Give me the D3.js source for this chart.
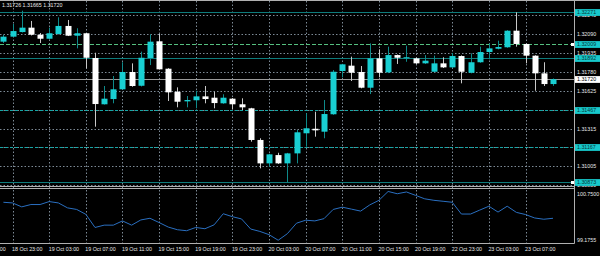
<!DOCTYPE html>
<html>
<head>
<meta charset="utf-8">
<script src="https://cdn.jsdelivr.net/npm/d3@7"></script>
<style>
  body { margin: 0; background: #000; }
  svg { display: block; font-family: "Liberation Sans", Arial, sans-serif; }
</style>
</head>
<body>
<svg id="grafico" width="600" height="256"></svg>
<script>
// Velas H1 (uma por hora, da esquerda para a direita)
let abertura = [1.32028, 1.32069, 1.32107, 1.32143, 1.32085, 1.32052, 1.32091, 1.32157, 1.32077, 1.32097,
  1.31894, 1.31514, 1.31557, 1.31637, 1.31779, 1.31666, 1.31894, 1.32031, 1.31806, 1.31617,
  1.31538, 1.31547, 1.31579, 1.31568, 1.31522, 1.31560, 1.31514, 1.31481, 1.31221, 1.31029,
  1.31097, 1.31029, 1.31111, 1.31276, 1.31313, 1.31289, 1.31432, 1.31787, 1.31831, 1.31779,
  1.31650, 1.31891, 1.31776, 1.31918, 1.31894, 1.31891, 1.31850, 1.31781, 1.31850, 1.31817,
  1.31910, 1.31773, 1.31859, 1.31943, 1.31970, 1.31982, 1.32118, 1.32009, 1.31913, 1.31768,
  1.31680];
let maxima = [1.32083, 1.32173, 1.32282, 1.32198, 1.32099, 1.32143, 1.32228, 1.32206, 1.32138, 1.32099,
  1.31937, 1.31664, 1.31746, 1.31859, 1.31850, 1.31946, 1.32088, 1.32091, 1.31810, 1.31653,
  1.31582, 1.31625, 1.31664, 1.31617, 1.31596, 1.31565, 1.31563, 1.31485, 1.31235, 1.31108,
  1.31116, 1.31115, 1.31303, 1.31440, 1.31453, 1.31549, 1.31795, 1.31846, 1.31905, 1.31828,
  1.32014, 1.31965, 1.31987, 1.31922, 1.31995, 1.31895, 1.31918, 1.31913, 1.31900, 1.31935,
  1.31915, 1.31932, 1.31987, 1.32014, 1.32036, 1.32122, 1.32269, 1.32012, 1.31916, 1.31859,
  1.31726];
let minima = [1.32017, 1.32066, 1.32103, 1.32079, 1.32017, 1.32048, 1.32087, 1.32074, 1.31973, 1.31809,
  1.31330, 1.31512, 1.31522, 1.31635, 1.31658, 1.31660, 1.31836, 1.31799, 1.31541, 1.31489,
  1.31489, 1.31481, 1.31522, 1.31481, 1.31518, 1.31473, 1.31467, 1.31207, 1.30988, 1.31001,
  1.31025, 1.30870, 1.31029, 1.31166, 1.31248, 1.31235, 1.31428, 1.31735, 1.31705, 1.31645,
  1.31598, 1.31735, 1.31770, 1.31845, 1.31863, 1.31845, 1.31846, 1.31777, 1.31812, 1.31812,
  1.31686, 1.31768, 1.31855, 1.31883, 1.31965, 1.31978, 1.31987, 1.31850, 1.31625, 1.31664,
  1.31665];
let fechamento = [1.32069, 1.32115, 1.32143, 1.32085, 1.32052, 1.32097, 1.32157, 1.32077, 1.32097, 1.31896,
  1.31516, 1.31560, 1.31637, 1.31779, 1.31664, 1.31896, 1.32028, 1.31801, 1.31612, 1.31535,
  1.31549, 1.31579, 1.31557, 1.31524, 1.31568, 1.31514, 1.31489, 1.31221, 1.31029, 1.31103,
  1.31029, 1.31111, 1.31284, 1.31317, 1.31300, 1.31434, 1.31781, 1.31842, 1.31773, 1.31650,
  1.31891, 1.31773, 1.31918, 1.31896, 1.31900, 1.31850, 1.31872, 1.31850, 1.31817, 1.31910,
  1.31781, 1.31859, 1.31943, 1.31973, 1.31984, 1.32118, 1.32009, 1.31913, 1.31768, 1.31680,
  1.31720];

// Indicador da subjanela
let indicador = [100.382, 100.362, 100.244, 100.314, 100.314, 100.403, 100.362, 100.214, 100.167, 100.020,
  99.626, 99.696, 99.696, 99.823, 99.696, 99.852, 99.902, 99.773, 99.638, 99.558,
  99.529, 99.626, 99.588, 99.705, 100.038, 99.950, 99.882, 99.579, 99.508, 99.411,
  99.243, 99.440, 99.755, 99.844, 99.823, 99.891, 100.167, 100.235, 100.176, 100.117,
  100.303, 100.441, 100.706, 100.638, 100.691, 100.588, 100.485, 100.441, 100.412, 100.382,
  100.029, 100.029, 100.147, 100.264, 100.088, 100.264, 100.079, 100.014, 99.911, 99.873,
  99.902];
let escalaIndicador = ["99.1755", "100.7500"];

// Eixos
let rotulosX = ["18 Oct 19:00", "18 Oct 23:00", "19 Oct 03:00", "19 Oct 07:00", "19 Oct 11:00", "19 Oct 15:00",
  "19 Oct 19:00", "19 Oct 23:00", "20 Oct 03:00", "20 Oct 07:00", "20 Oct 11:00", "20 Oct 15:00",
  "20 Oct 19:00", "22 Oct 23:00", "23 Oct 03:00", "23 Oct 07:00"];
let barraRotulo = [-3, 1, 5, 9, 13, 17, 21, 25, 29, 33, 37, 41, 45, 49, 53, 57];
let ticksPreco = [1.32245, 1.32090, 1.31935, 1.31780, 1.31625, 1.31470, 1.31315, 1.31160, 1.31005, 1.30850];

// Linhas horizontais desenhadas no gráfico
let niveis = [1.32271, 1.32009, 1.31892, 1.31467, 1.31167, 1.30873];
let precoAtual = 1.31720;
let cabecalho = ["1.31726", "1.31665", "1.31720"];

let svg = d3.select("#grafico");
let largura = 574;
let topoInd = 189.5, baseInd = 243;

let fnX = d3.scaleLinear().domain([0, 60]).range([3.4, 553]);
let fnY = d3.scaleLinear().domain([1.30835, 1.32370]).range([187, 0]);
let fnYi = d3.scaleLinear().domain([99.1755, 100.75]).range([baseInd - 0.5, topoInd + 0.5]);

let cinzaGrade = "#7d8a96";
let px = (v) => Math.round(v) + 0.5;

// Grade
let grade = svg.append("g");
grade.selectAll(".gh")
  .data(ticksPreco)
  .enter()
  .append("line")
  .attr("x1", 0).attr("x2", largura)
  .attr("y1", (d) => px(fnY(d))).attr("y2", (d) => px(fnY(d)))
  .attr("stroke", cinzaGrade).attr("stroke-dasharray", "1.5,2");
grade.selectAll(".gv")
  .data(barraRotulo.filter((d) => d >= 0))
  .enter()
  .append("line")
  .attr("x1", (d) => px(fnX(d))).attr("x2", (d) => px(fnX(d)))
  .attr("y1", 1).attr("y2", baseInd)
  .attr("stroke", cinzaGrade).attr("stroke-dasharray", "1.5,2");

// Linhas de nível
let estiloNivel = [
  { cor: "#0e7c7c", tra: null },
  { cor: "#55c080", tra: "4,2" },
  { cor: "#0e7c7c", tra: null },
  { cor: "#16a6a6", tra: "3,2" },
  { cor: "#16a6a6", tra: "3,2" },
  { cor: "#0e7c7c", tra: null },
];
svg.selectAll(".nivel")
  .data(niveis)
  .enter()
  .append("line")
  .attr("x1", 0).attr("x2", largura)
  .attr("y1", (d) => px(fnY(d))).attr("y2", (d) => px(fnY(d)))
  .attr("stroke", (d, i) => estiloNivel[i].cor)
  .attr("stroke-width", 1.2)
  .attr("stroke-dasharray", (d, i) => estiloNivel[i].tra);

svg.append("line")
  .attr("x1", 0).attr("x2", largura)
  .attr("y1", px(fnY(precoAtual))).attr("y2", px(fnY(precoAtual)))
  .attr("stroke", "#9a9a9a");

// Velas
let velas = svg.selectAll(".vela")
  .data(abertura.map((o, i) => ({ i: i, o: o, h: maxima[i], l: minima[i], c: fechamento[i] })))
  .enter()
  .append("g")
  .classed("vela", true);
velas.append("line")
  .attr("x1", (d) => px(fnX(d.i))).attr("x2", (d) => px(fnX(d.i)))
  .attr("y1", (d) => fnY(d.h)).attr("y2", (d) => fnY(d.l))
  .attr("stroke", (d) => (d.c >= d.o ? "#0f8a8a" : "#c8c8c8"));
velas.append("rect")
  .attr("x", (d) => Math.round(fnX(d.i)) - 2.5)
  .attr("width", 6)
  .attr("y", (d) => fnY(Math.max(d.o, d.c)))
  .attr("height", (d) => Math.max(1, Math.abs(fnY(d.o) - fnY(d.c))))
  .attr("fill", (d) => (d.c >= d.o ? "#19cfd2" : "#ffffff"));

// Indicador
svg.append("path")
  .datum(indicador)
  .attr("fill", "none")
  .attr("stroke", "#2a6fc0")
  .attr("stroke-width", 1)
  .attr("d", d3.line().x((d, i) => fnX(i)).y((d) => fnYi(d)));

// Molduras
let moldura = svg.append("g").attr("stroke", "#b0b0b0").attr("fill", "none");
moldura.append("line").attr("x1", 0).attr("x2", 600).attr("y1", 0.5).attr("y2", 0.5);
moldura.append("line").attr("x1", 0).attr("x2", largura + 0.5).attr("y1", 186.5).attr("y2", 186.5);
moldura.append("line").attr("x1", 0).attr("x2", largura + 0.5).attr("y1", 188.5).attr("y2", 188.5);
moldura.append("line").attr("x1", 0).attr("x2", largura + 0.5).attr("y1", baseInd + 0.5).attr("y2", baseInd + 0.5);
moldura.append("line").attr("x1", largura + 0.5).attr("x2", largura + 0.5).attr("y1", 0).attr("y2", baseInd + 0.5);

// Eixo de preço
let eixoY = svg.append("g")
  .attr("transform", `translate(${largura + 2},0)`)
  .call(d3.axisRight(fnY).tickValues(ticksPreco).tickFormat(d3.format(".5f")).tickSize(0).tickPadding(1));
eixoY.select(".domain").remove();
eixoY.selectAll("text").attr("fill", "#e8e8e8").attr("font-size", 5.3).attr("font-family", "Liberation Sans, Arial");

// Rótulos das linhas
let rotulos = svg.selectAll(".rotuloNivel")
  .data(niveis)
  .enter()
  .append("g")
  .attr("transform", (d) => `translate(${largura + 1},${px(fnY(d))})`);
rotulos.append("rect")
  .attr("x", 0).attr("y", -3.4).attr("width", 25).attr("height", 6.8)
  .attr("fill", "#17c9cc");
rotulos.append("text")
  .text((d) => d3.format(".5f")(d))
  .attr("x", 2).attr("dy", "0.35em")
  .attr("font-size", 5.3).attr("fill", "#063838");

let atual = svg.append("g").attr("transform", `translate(${largura + 1},${px(fnY(precoAtual))})`);
atual.append("rect").attr("x", 0).attr("y", -3.4).attr("width", 25).attr("height", 6.8).attr("fill", "#ffffff");
atual.append("text").text(d3.format(".5f")(precoAtual)).attr("x", 2).attr("dy", "0.35em")
  .attr("font-size", 5.3).attr("fill", "#000");

// marcadores brancos
svg.selectAll(".marca")
  .data([niveis[1], niveis[5]])
  .enter()
  .append("rect")
  .attr("x", largura - 3).attr("y", (d) => px(fnY(d)) - 1.5)
  .attr("width", 3).attr("height", 3)
  .attr("fill", "#fff");

// Escala do indicador
svg.append("text").text(escalaIndicador[1]).attr("x", largura + 3).attr("y", topoInd + 6.5)
  .attr("font-size", 5.3).attr("fill", "#e8e8e8");
svg.append("text").text(escalaIndicador[0]).attr("x", largura + 3).attr("y", baseInd - 1.5)
  .attr("font-size", 5.3).attr("fill", "#e8e8e8");

// Eixo de tempo
let eixoX = svg.append("g")
  .attr("transform", `translate(0,${baseInd + 1})`)
  .call(d3.axisBottom(fnX).tickValues(barraRotulo).tickFormat((d, i) => rotulosX[i]).tickSize(0).tickPadding(3));
eixoX.select(".domain").remove();
eixoX.selectAll("text")
  .attr("text-anchor", "start")
  .attr("dx", -1)
  .attr("fill", "#e8e8e8")
  .attr("font-size", 5.3)
  .attr("font-family", "Liberation Sans, Arial");

// Cabeçalho
svg.append("text")
  .text(cabecalho.join(" "))
  .attr("x", 2).attr("y", 7)
  .attr("font-size", 5.3)
  .attr("fill", "#e8e8e8");
</script>
</body>
</html>
